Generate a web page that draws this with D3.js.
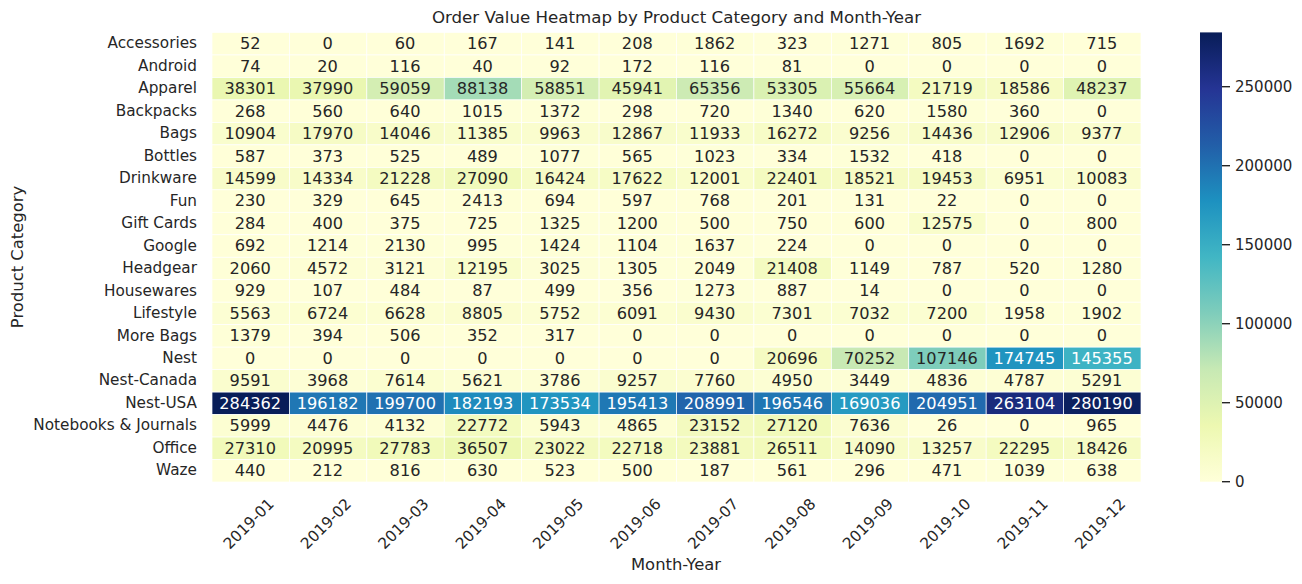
<!DOCTYPE html>
<html><head><meta charset="utf-8">
<script src="https://cdn.jsdelivr.net/npm/d3@7"></script>
<style>html,body{margin:0;padding:0;background:#fff}svg{display:block}text{font-family:"DejaVu Sans";fill:#262626}</style>
</head><body><svg id="c" width="1302" height="584"></svg>
<script>
const categories=["Accessories","Android","Apparel","Backpacks","Bags","Bottles","Drinkware","Fun","Gift Cards","Google","Headgear","Housewares","Lifestyle","More Bags","Nest","Nest-Canada","Nest-USA","Notebooks & Journals","Office","Waze"];
const months=["2019-01","2019-02","2019-03","2019-04","2019-05","2019-06","2019-07","2019-08","2019-09","2019-10","2019-11","2019-12"];
const values=[
[52,0,60,167,141,208,1862,323,1271,805,1692,715],
[74,20,116,40,92,172,116,81,0,0,0,0],
[38301,37990,59059,88138,58851,45941,65356,53305,55664,21719,18586,48237],
[268,560,640,1015,1372,298,720,1340,620,1580,360,0],
[10904,17970,14046,11385,9963,12867,11933,16272,9256,14436,12906,9377],
[587,373,525,489,1077,565,1023,334,1532,418,0,0],
[14599,14334,21228,27090,16424,17622,12001,22401,18521,19453,6951,10083],
[230,329,645,2413,694,597,768,201,131,22,0,0],
[284,400,375,725,1325,1200,500,750,600,12575,0,800],
[692,1214,2130,995,1424,1104,1637,224,0,0,0,0],
[2060,4572,3121,12195,3025,1305,2049,21408,1149,787,520,1280],
[929,107,484,87,499,356,1273,887,14,0,0,0],
[5563,6724,6628,8805,5752,6091,9430,7301,7032,7200,1958,1902],
[1379,394,506,352,317,0,0,0,0,0,0,0],
[0,0,0,0,0,0,0,20696,70252,107146,174745,145355],
[9591,3968,7614,5621,3786,9257,7760,4950,3449,4836,4787,5291],
[284362,196182,199700,182193,173534,195413,208991,196546,169036,204951,263104,280190],
[5999,4476,4132,22772,5943,4865,23152,27120,7636,26,0,965],
[27310,20995,27783,36507,23022,22718,23881,26511,14090,13257,22295,18426],
[440,212,816,630,523,500,187,561,296,471,1039,638]];
const colorTicks=[0,50000,100000,150000,200000,250000];
const palette=["#ffffd9","#edf8b1","#c7e9b4","#7fcdbb","#41b6c4","#1d91c0","#225ea8","#253494","#081d58"];

const W={l:212,r:1141,t:32.5,b:482};
const svg=d3.select("#c");
const x=d3.scaleBand().domain(months).range([W.l,W.r]);
const y=d3.scaleBand().domain(categories).range([W.t,W.b]);
const vmax=d3.max(values.flat());
const color=d3.scaleLinear().domain(palette.map((_,i)=>i/8*vmax)).range(palette).clamp(true);
function lum(c){const r=d3.rgb(c);const f=v=>{v/=255;return v<=.03928?v/12.92:Math.pow((v+.055)/1.055,2.4)};return .2126*f(r.r)+.7152*f(r.g)+.0722*f(r.b)}

const rows=svg.append("g").selectAll("g").data(values).join("g").attr("transform",(d,i)=>`translate(0,${y(categories[i])})`);
rows.selectAll("rect").data(d=>d.map((v,j)=>({v,m:months[j]}))).join("rect")
 .attr("x",d=>x(d.m)).attr("y",0).attr("width",x.bandwidth()).attr("height",y.bandwidth())
 .attr("fill",d=>color(d.v)).attr("stroke","#fff").attr("stroke-width",0.7);
rows.selectAll("text").data(d=>d.map((v,j)=>({v,m:months[j]}))).join("text")
 .attr("x",d=>x(d.m)+x.bandwidth()/2-0.5).attr("y",y.bandwidth()/2+5.4).attr("text-anchor","middle")
 .style("font-size","16.2px").style("fill",d=>lum(color(d.v))<.408?"#fff":"#262626").text(d=>d.v);

const yAxis=svg.append("g").attr("transform",`translate(${W.l},0)`).call(d3.axisLeft(y).tickSize(0).tickPadding(15));
yAxis.select(".domain").remove();
yAxis.selectAll("text").style("font-size","15.28px").attr("dy","0.3em");
const xAxis=svg.append("g").attr("transform",`translate(0,${W.b})`).call(d3.axisBottom(x).tickSize(0).tickPadding(0));
xAxis.select(".domain").remove();
xAxis.selectAll("text").style("font-size","15.28px").attr("text-anchor","middle").attr("y",0).attr("dy",0)
 .attr("transform","translate(-2,42) rotate(-45) translate(0,5)");

svg.append("text").attr("x",676.5).attr("y",23).attr("text-anchor","middle").style("font-size","16.67px").text("Order Value Heatmap by Product Category and Month-Year");
svg.append("text").attr("x",676).attr("y",570).attr("text-anchor","middle").style("font-size","16.4px").text("Month-Year");
svg.append("text").attr("transform","translate(23,257) rotate(-90)").attr("text-anchor","middle").style("font-size","16.4px").text("Product Category");

const C={x:1200,w:22,t:32.4,b:481.7};
const cs=d3.scaleLinear().domain([0,vmax]).range([C.b,C.t]);
const grad=svg.append("defs").append("linearGradient").attr("id","g").attr("x1",0).attr("x2",0).attr("y1",1).attr("y2",0);
grad.selectAll("stop").data(palette).join("stop").attr("offset",(d,i)=>i/8).attr("stop-color",d=>d);
svg.append("rect").attr("x",C.x).attr("y",C.t).attr("width",C.w).attr("height",C.b-C.t).attr("fill","url(#g)");
const cAxis=svg.append("g").attr("transform",`translate(${C.x+C.w},0)`).call(d3.axisRight(cs).tickValues(colorTicks).tickFormat(d3.format("d")).tickSize(8).tickPadding(5).offset(0));
cAxis.select(".domain").remove();
cAxis.selectAll("line").attr("stroke","#262626").attr("stroke-width",1.4);
cAxis.selectAll("text").style("font-size","15px").attr("dy","0.36em");
</script></body></html>
